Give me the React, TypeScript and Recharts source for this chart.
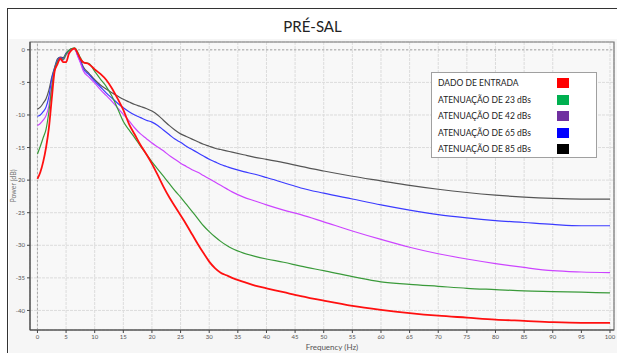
import React from 'react';
import { LineChart, Line, XAxis, YAxis, CartesianGrid, Legend, ReferenceLine, ReferenceArea } from 'recharts';

const freq = [0, 0.5, 1, 1.5, 2, 2.5, 3, 3.5, 4, 4.5, 5, 5.5, 6, 6.5, 7, 7.5, 8,
  9, 10, 11, 12, 13, 14, 15, 16, 17, 18, 19, 20, 21, 22, 23, 24, 25, 26, 27, 28, 29, 30, 31, 32, 33, 34,
  36, 38, 40, 43, 46, 50, 55, 60, 65, 70, 75, 80, 85, 90, 95, 100];

const entrada = [-19.8, -18.8, -17.2, -15, -12, -7.5, -3.3, -2.2, -1.3, -1.9, -1.9, -0.6, 0, 0.2, -0.5, -1.4, -1.9,
  -2.2, -3, -3.7, -4.6, -5.9, -7.5, -9.2, -11.4, -13, -14.6, -16, -17.5, -19.2, -21, -22.6, -24, -25.4, -26.8, -28.3, -29.8, -31.2, -32.5, -33.5, -34.2, -34.6, -35,
  -35.6, -36.2, -36.6, -37.2, -37.8, -38.5, -39.3, -39.9, -40.4, -40.8, -41.1, -41.4, -41.6, -41.8, -41.9, -41.9];

const aten23 = [-16, -14.8, -13.5, -12.2, -9.5, -5.8, -3, -1.8, -1.3, -1.5, -0.7, -0.1, 0.2, 0.3, -0.3, -1.2, -1.9,
  -2.1, -3.3, -4.5, -5.6, -7.1, -9, -11, -12.3, -13.5, -14.8, -16, -17.2, -18.3, -19.4, -20.5, -21.6, -22.6, -23.7, -24.8, -25.9, -27, -27.9, -28.7, -29.4, -30, -30.5,
  -31.2, -31.7, -32.1, -32.6, -33.2, -33.9, -34.8, -35.6, -36, -36.3, -36.6, -36.8, -37, -37.1, -37.2, -37.3];

const aten42 = [-11.6, -11.3, -10.8, -10.1, -8.6, -5.5, -3.2, -2, -1.5, -1.6, -0.8, -0.3, 0.1, 0.2, -0.9, -2, -3.2,
  -4.2, -5.1, -6.1, -7, -7.9, -8.9, -9.9, -10.9, -12, -12.9, -13.6, -14.3, -14.9, -15.5, -16.2, -16.8, -17.4, -17.9, -18.4, -18.8, -19.3, -19.8, -20.3, -20.8, -21.3, -21.8,
  -22.6, -23.2, -23.8, -24.6, -25.3, -26.4, -27.8, -29.1, -30.3, -31.3, -32.1, -32.8, -33.4, -33.9, -34.1, -34.2];

const aten65 = [-10.2, -10, -9.5, -8.8, -7.2, -4.5, -2.8, -1.6, -1.2, -1.4, -0.6, -0.2, 0.1, 0.2, -0.8, -1.8, -2.9,
  -3.8, -4.8, -5.7, -6.6, -7.4, -8.2, -8.9, -9.5, -10, -10.4, -10.8, -11.1, -11.6, -12.3, -13, -13.7, -14.2, -14.8, -15.3, -15.8, -16.3, -16.8, -17.2, -17.6, -17.9, -18.2,
  -18.7, -19.1, -19.6, -20.4, -21.2, -22, -22.9, -23.8, -24.6, -25.3, -25.8, -26.2, -26.5, -26.8, -27, -27];

const aten85 = [-9.1, -8.8, -8.2, -7.5, -6.2, -4.2, -2.7, -1.4, -1.1, -1.2, -0.5, -0.1, 0.2, 0.2, -0.6, -1.5, -2.6,
  -3.6, -4.6, -5.4, -6, -6.6, -7.1, -7.6, -8, -8.4, -8.7, -9, -9.4, -10, -10.8, -11.6, -12.3, -12.9, -13.3, -13.7, -14.1, -14.5, -14.8, -15.1, -15.3, -15.5, -15.7,
  -16.1, -16.5, -16.8, -17.3, -17.9, -18.6, -19.4, -20.1, -20.8, -21.4, -21.9, -22.3, -22.6, -22.8, -22.9, -22.9];

const xTicks = [0, 5, 10, 15, 20, 25, 30, 35, 40, 45, 50, 55, 60, 65, 70, 75, 80, 85, 90, 95, 100];
const yTicks = [0, -5, -10, -15, -20, -25, -30, -35, -40];

const legendItems = [
  { label: 'DADO DE ENTRADA', color: '#ff0000' },
  { label: 'ATENUAÇÃO DE 23 dBs', color: '#00b050' },
  { label: 'ATENUAÇÃO DE 42 dBs', color: '#7030a0' },
  { label: 'ATENUAÇÃO DE 65 dBs', color: '#0000ff' },
  { label: 'ATENUAÇÃO DE 85 dBs', color: '#000000' },
];

const data = freq.map((f, i) => ({
  f,
  entrada: entrada[i],
  a23: aten23[i],
  a42: aten42[i],
  a65: aten65[i],
  a85: aten85[i],
}));

const font = 'Lato, "Open Sans", sans-serif';

const renderLegend = () => (
  <div style={{ width: 166, height: 86, background: '#fff', border: '1px solid #a0a0a0', boxSizing: 'border-box', padding: '2px 0 0 6px', fontFamily: font }}>
    {legendItems.map((it) => (
      <div key={it.label} style={{ display: 'flex', alignItems: 'center', height: 16.5, fontSize: 8.5, color: '#222' }}>
        <span style={{ width: 119 }}>{it.label}</span>
        <span style={{ width: 12, height: 10, background: it.color, display: 'inline-block' }} />
      </div>
    ))}
  </div>
);

export default function App() {
  return (
    <div style={{ position: 'absolute', left: 0, top: 0, width: 617, height: 353, overflow: 'hidden', background: '#fff' }}>
      <div style={{ position: 'absolute', left: 7, top: 8, width: 640, height: 380, border: '1.5px solid #333', boxSizing: 'border-box', background: '#fff' }} />
      <div style={{ position: 'absolute', left: 9, top: 39, width: 620, height: 330, background: '#f6f6f6' }} />
      <div style={{ position: 'absolute', left: 0, top: 17, width: 625, textAlign: 'center', fontFamily: font, fontSize: 15, color: '#222' }}>PRÉ-SAL</div>
      <div style={{ position: 'absolute', left: 0, top: 0 }}>
        <LineChart width={617} height={353} data={data} margin={{ top: 42, right: 3, bottom: 0, left: 0 }}>
          <CartesianGrid stroke="#dcdcdc" strokeDasharray="3 1" fill="#f8f8f8" />
          <XAxis
            dataKey="f"
            type="number"
            domain={[-1.3, 100.7]}
            ticks={xTicks}
            allowDataOverflow
            height={23}
            tick={{ fontSize: 6, fill: '#555', fontFamily: font }}
            tickSize={3}
            stroke="#444"
            label={{ value: 'Frequency (Hz)', position: 'insideBottom', offset: 3, dx: 10, style: { fontSize: 8, fill: '#555', fontFamily: font } }}
          />
          <YAxis
            type="number"
            domain={[-43, 1.2]}
            ticks={yTicks}
            allowDataOverflow
            width={30}
            tick={{ fontSize: 6, fill: '#555', fontFamily: font }}
            tickSize={3}
            stroke="#444"
            label={{ value: 'Power (dB)', angle: -90, position: 'insideLeft', offset: 14, style: { fontSize: 7, fill: '#777', fontFamily: font, textAnchor: 'middle' } }}
          />
          <ReferenceLine x={0} stroke="#aaa" strokeDasharray="2 2" />
          <ReferenceLine y={0} stroke="#aaa" strokeDasharray="2 2" />
          <ReferenceArea x1={-1.3} x2={100.7} y1={-43} y2={1.2} fill="none" stroke="#777" strokeWidth={1.2} ifOverflow="visible" />
          <Line type="monotone" dataKey="a85" stroke="#555555" strokeWidth={1.2} dot={false} isAnimationActive={false} />
          <Line type="monotone" dataKey="a65" stroke="#3b3bff" strokeWidth={1.2} dot={false} isAnimationActive={false} />
          <Line type="monotone" dataKey="a42" stroke="#cc44ff" strokeWidth={1.2} dot={false} isAnimationActive={false} />
          <Line type="monotone" dataKey="a23" stroke="#3a9a3a" strokeWidth={1.2} dot={false} isAnimationActive={false} />
          <Line type="monotone" dataKey="entrada" stroke="#ff1010" strokeWidth={1.8} dot={false} isAnimationActive={false} />
          <Legend
            content={renderLegend}
            layout="horizontal"
            verticalAlign="middle"
            align="center"
            wrapperStyle={{ position: 'absolute', left: 431, top: 72, width: 166 }}
          />
        </LineChart>
      </div>
    </div>
  );
}
